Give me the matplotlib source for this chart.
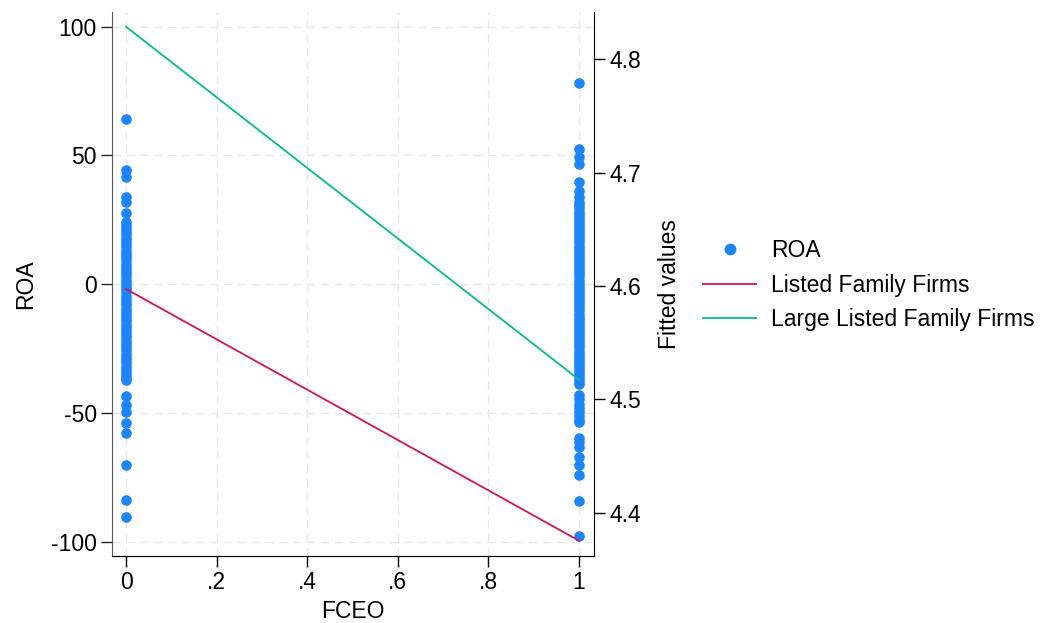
import matplotlib
matplotlib.use("Agg")
import matplotlib.pyplot as plt
from matplotlib.lines import Line2D

plt.rcParams['font.family'] = ['Liberation Sans', 'DejaVu Sans']

roa_fceo0 = [64.3, 44.2, 41.8, 33.8, 31.8, 27.6, 24.1, 23.0, 21.8, 20.5, 19.3, 18.0,
             16.8, 15.5, 14.3, 13.0, 11.8, 10.5, 9.3, 8.0, 6.8, 5.5, 4.3, 3.0, 1.8,
             0.5, -0.7, -2.0, -3.2, -4.5, -5.7, -7.0, -8.2, -9.5, -10.7, -12.0, -13.2,
             -14.5, -15.7, -17.0, -18.2, -19.5, -20.7, -22.0, -23.2, -24.5, -25.7,
             -27.0, -28.2, -29.5, -30.7, -32.0, -33.2, -34.5, -35.7, -36.6, -37.4,
             -43.5, -46.8, -49.7, -54.0, -57.9, -70.1, -84.0, -90.5]
roa_fceo1 = [78.1, 52.6, 49.3, 46.8, 39.6, 36.1, 33.8, 31.8, 30.6, 29.4, 28.2, 27.0,
             25.8, 24.6, 23.4, 22.2, 21.0, 19.8, 18.6, 17.4, 16.2, 15.0, 13.8, 12.6,
             11.4, 10.2, 9.0, 7.8, 6.6, 5.4, 4.2, 3.0, 1.8, 0.6, -0.6, -1.8, -3.0,
             -4.2, -5.4, -6.6, -7.8, -9.0, -10.2, -11.4, -12.6, -13.8, -15.0, -16.2,
             -17.4, -18.6, -19.8, -21.0, -22.2, -23.4, -24.6, -25.8, -27.0, -28.2,
             -29.4, -30.6, -31.8, -33.0, -34.2, -35.4, -36.6, -37.7, -38.7,
             -43.2, -44.8, -46.4, -48.0, -49.6, -51.2, -52.6, -53.6,
             -59.9, -61.5, -63.3, -67.2, -70.1, -74.3, -84.4, -97.9]

# fitted values (right axis) at FCEO = 0 and 1
fceo_fit = [0, 1]
fit_listed = [4.5974, 4.3753]
fit_large = [4.8288, 4.5174]

x_ticks = [0, 0.2, 0.4, 0.6, 0.8, 1]
x_labels = ['0', '.2', '.4', '.6', '.8', '1']
roa_ticks = [-100, -50, 0, 50, 100]
fit_ticks = [4.4, 4.5, 4.6, 4.7, 4.8]

blue = '#1a85ff'
red = '#d41159'
green = '#00bf7f'
fs = 16.5

fig = plt.figure(figsize=(10.44, 6.23), dpi=100)
ax = fig.add_axes([0.1073, 0.1075, 0.4617, 0.8732])
ax2 = ax.twinx()

xs = [0] * len(roa_fceo0) + [1] * len(roa_fceo1)
ys = roa_fceo0 + roa_fceo1
ax.scatter(xs, ys, s=58, color=blue, linewidths=0, zorder=3)

ax2.plot(fceo_fit, fit_listed, color=red, lw=1.3)
ax2.plot(fceo_fit, fit_large, color=green, lw=1.3)

ax.set_xlim(-0.031, 1.033)
ax.set_ylim(-105.6, 105.7)
ax2.set_ylim(4.3618, 4.8418)

ax.set_xticks(x_ticks)
ax.set_xticklabels(x_labels)
ax.set_yticks(roa_ticks)
ax.set_yticklabels([str(t) for t in roa_ticks])
ax2.set_yticks(fit_ticks)
ax2.set_yticklabels([str(t) for t in fit_ticks])

ax.grid(True, color='#e8e8e8', linestyle=(0, (6, 4)), linewidth=1.0, zorder=0)
ax.set_axisbelow(True)

for a in (ax, ax2):
    a.spines['top'].set_visible(False)
    a.tick_params(labelsize=fs, length=8, width=1, direction='out', pad=3)
ax.spines['left'].set_color('#555555')
ax.spines['right'].set_visible(False)
ax2.spines['left'].set_visible(False)
ax2.spines['right'].set_color('black')
ax.tick_params(axis='y', colors='#222222', labelcolor='black')

ax.set_xlabel('FCEO', fontsize=fs, labelpad=4)
ax.set_ylabel('ROA', fontsize=fs, labelpad=10)
ax2.set_ylabel('Fitted values', fontsize=fs, labelpad=12)

handles = [Line2D([], [], marker='o', ls='', color=blue, markersize=7.5),
           Line2D([], [], color=red, lw=1.3),
           Line2D([], [], color=green, lw=1.3)]
labels = ['ROA', 'Listed Family Firms', 'Large Listed Family Firms']
fig.legend(handles, labels, loc='center left', bbox_to_anchor=(0.665, 0.5425),
           frameon=False, fontsize=fs, handlelength=2.3, handletextpad=0.65,
           labelspacing=0.5, borderaxespad=0)

fig.savefig('out.png', dpi=100)
